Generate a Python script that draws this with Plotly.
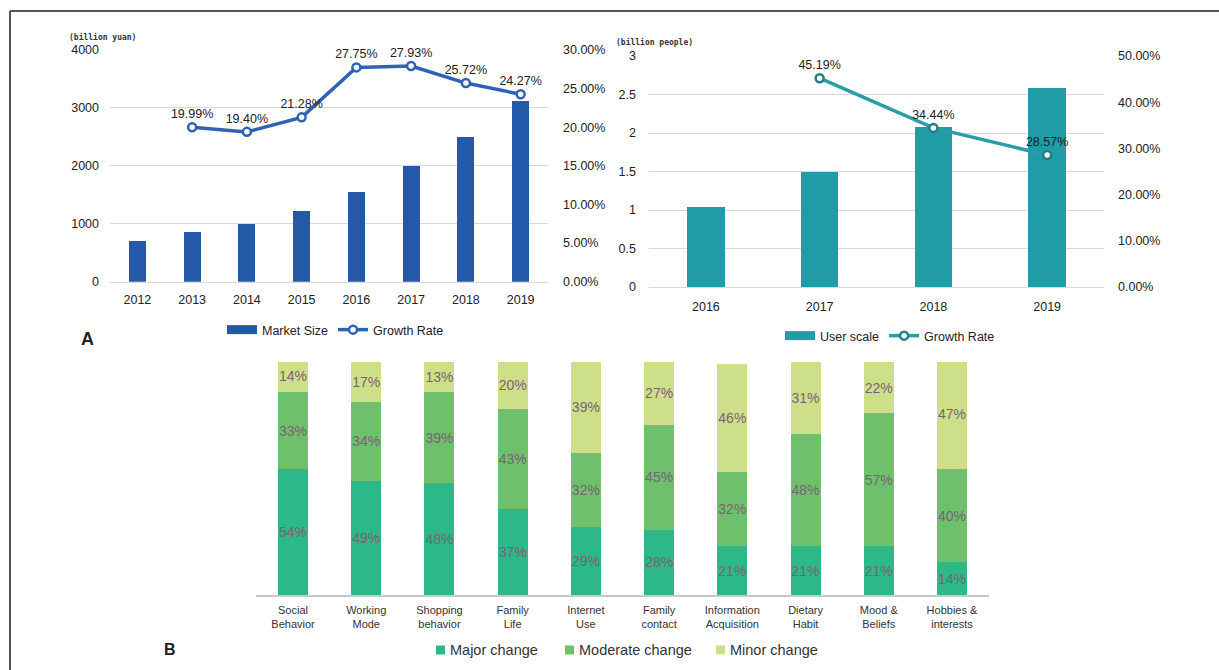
import plotly.graph_objects as go

W, H = 1219, 670
def px(x): return x / W
def py(y): return 1 - y / H

# ---------- data ----------
years_a = ["2012", "2013", "2014", "2015", "2016", "2017", "2018", "2019"]
market_size = [700, 850, 1000, 1220, 1550, 2000, 2500, 3120]
growth_years_a = ["2013", "2014", "2015", "2016", "2017", "2018", "2019"]
growth_a = [0.1999, 0.1940, 0.2128, 0.2775, 0.2793, 0.2572, 0.2427]

years_b = ["2016", "2017", "2018", "2019"]
user_scale = [1.04, 1.50, 2.08, 2.59]
growth_years_b = ["2017", "2018", "2019"]
growth_b = [0.4519, 0.3444, 0.2857]

categories_c = ["Social<br>Behavior", "Working<br>Mode", "Shopping<br>behavior", "Family<br>Life",
                "Internet<br>Use", "Family<br>contact", "Information<br>Acquisition", "Dietary<br>Habit",
                "Mood &<br>Beliefs", "Hobbies &<br>interests"]
series_c = ["Major change", "Moderate change", "Minor change"]
major = [54, 49, 48, 37, 29, 28, 21, 21, 21, 14]
moderate = [33, 34, 39, 43, 32, 45, 32, 48, 57, 40]
minor = [14, 17, 13, 20, 39, 27, 46, 31, 22, 47]

FONT = "Liberation Sans, Arial, sans-serif"
BLUE_BAR = "#2459A9"
BLUE_LINE = "#2E62B6"
TEAL_BAR = "#1F9CA6"
TEAL_LINE = "#2A9EA8"
C_MAJOR = "#2DB88A"
C_MOD = "#6EC06C"
C_MIN = "#CEDF8A"
TXT_C = "#7A6272"

fig = go.Figure()

# ---------- Chart A ----------
fig.add_trace(go.Bar(x=years_a, y=market_size, name="Market Size", marker_color=BLUE_BAR,
                     width=0.31, xaxis="x", yaxis="y", showlegend=False))
fig.add_trace(go.Scatter(x=[None], y=[None], mode="lines", name="Market Size",
                         line=dict(color=BLUE_BAR, width=9), xaxis="x", yaxis="y", legend="legend"))
fig.add_trace(go.Scatter(x=growth_years_a, y=growth_a, name="Growth Rate", mode="lines+markers+text",
                         line=dict(color=BLUE_LINE, width=3.5),
                         marker=dict(symbol="circle", size=8, color="white", line=dict(color=BLUE_LINE, width=2.5)),
                         text=[f"{v*100:.2f}%" for v in growth_a], textposition="top center",
                         textfont=dict(size=12.5, color="#222", family=FONT),
                         xaxis="x", yaxis="y2", legend="legend", cliponaxis=False))

# ---------- Chart B ----------
fig.add_trace(go.Bar(x=years_b, y=user_scale, name="User scale", marker_color=TEAL_BAR,
                     width=0.33, xaxis="x2", yaxis="y3", showlegend=False))
fig.add_trace(go.Scatter(x=[None], y=[None], mode="lines", name="User scale",
                         line=dict(color=TEAL_BAR, width=9), xaxis="x2", yaxis="y3", legend="legend2"))
fig.add_trace(go.Scatter(x=growth_years_b, y=growth_b, name="Growth Rate", mode="lines+markers+text",
                         line=dict(color=TEAL_LINE, width=3.5),
                         marker=dict(symbol="circle", size=8, color="white", line=dict(color="#1E7F88", width=2.5)),
                         text=[f"{v*100:.2f}%" for v in growth_b], textposition="top center",
                         textfont=dict(size=12.5, color="#222", family=FONT),
                         xaxis="x2", yaxis="y4", legend="legend2", cliponaxis=False))

# ---------- Chart C ----------
colors_c = [C_MAJOR, C_MOD, C_MIN]
for name, vals, col in zip(series_c, [major, moderate, minor], colors_c):
    fig.add_trace(go.Bar(x=categories_c, y=vals, name=name, marker_color=col, width=0.41,
                         text=[f"{v}%" for v in vals], textposition="inside", insidetextanchor="middle",
                         textangle=0, constraintext="none",
                         textfont=dict(size=14, color=TXT_C, family=FONT),
                         xaxis="x3", yaxis="y5", showlegend=False))

# manual legend for chart C (square swatch tight to text)
leg_c_x = [436, 565, 716]
for name, col, lx in zip(series_c, colors_c, leg_c_x):
    fig.add_shape(type="rect", xref="paper", yref="paper", x0=px(lx), x1=px(lx + 9),
                  y0=py(654.5), y1=py(645.5), fillcolor=col, line=dict(width=0))
    fig.add_annotation(text=name, x=px(lx + 12), y=py(650), xref="paper", yref="paper",
                       xanchor="left", yanchor="middle", showarrow=False,
                       font=dict(family=FONT, size=14.5, color="#333"))

tickf = dict(family=FONT, size=12.5, color="#222")
grid = "#D9D9D9"
common = dict(automargin=False, showgrid=False, zeroline=False)

fig.update_layout(
    template="none",
    width=W, height=H, margin=dict(l=0, r=0, t=0, b=0, pad=0, autoexpand=False), autosize=False,
    paper_bgcolor="white", plot_bgcolor="white",
    font=dict(family=FONT, color="#222"),
    barmode="stack", showlegend=True,
    uniformtext=dict(minsize=8, mode="show"),
    xaxis=dict(common, domain=[px(110), px(548)], type="category", anchor="y", tickfont=tickf,
               showline=True, linecolor=grid, ticks="", ticklabelstandoff=6),
    yaxis=dict(common, domain=[py(281.7), py(50)], range=[0, 4000], dtick=1000, anchor="x",
               showgrid=True, gridcolor=grid, tickfont=tickf, ticks="", ticklabelstandoff=10),
    yaxis2=dict(common, overlaying="y", side="right", range=[0, 0.30], dtick=0.05, tickformat=".2%",
                tickfont=tickf, anchor="x", ticks="", ticklabelstandoff=14),
    xaxis2=dict(common, domain=[px(649), px(1104)], type="category", anchor="y3", tickfont=tickf,
                showline=True, linecolor=grid, ticks="", ticklabelstandoff=8),
    yaxis3=dict(common, domain=[py(287), py(56)], range=[0, 3], dtick=0.5, anchor="x2",
                showgrid=True, gridcolor=grid, tickfont=tickf, ticks="", ticklabelstandoff=12),
    yaxis4=dict(common, overlaying="y3", side="right", range=[0, 0.5], dtick=0.1, tickformat=".2%",
                tickfont=tickf, anchor="x2", ticks="", ticklabelstandoff=13),
    xaxis3=dict(common, domain=[px(256.4), px(988.6)], type="category", anchor="y5",
                tickfont=dict(family=FONT, size=11, color="#333"),
                showline=True, linecolor="#C8C8C8", linewidth=1.5, ticks="", ticklabelstandoff=4),
    yaxis5=dict(common, domain=[py(595), py(362)], range=[0, 100], visible=False, anchor="x3"),
    legend=dict(orientation="h", x=px(222), y=py(330), xanchor="left", yanchor="middle",
                font=dict(family=FONT, size=12.5, color="#222"), bgcolor="rgba(0,0,0,0)",
                itemwidth=30, traceorder="normal", borderwidth=0),
    legend2=dict(orientation="h", x=px(780), y=py(336), xanchor="left", yanchor="middle",
                 font=dict(family=FONT, size=12.5, color="#222"), bgcolor="rgba(0,0,0,0)",
                 itemwidth=30, traceorder="normal", borderwidth=0),
)

# frame lines
fig.add_shape(type="line", xref="paper", yref="paper", x0=px(10), x1=1, y0=py(11), y1=py(11),
              line=dict(color="#555", width=2))
fig.add_shape(type="line", xref="paper", yref="paper", x0=px(10), x1=px(10), y0=py(11), y1=0,
              line=dict(color="#555", width=2))

# annotations
for text, x, y in [("(billion yuan)", 67, 37), ("(billion people)", 614, 42)]:
    fig.add_annotation(text=f"<b>{text}</b>", x=px(x), y=py(y), xref="paper", yref="paper",
                       xanchor="left", yanchor="middle", showarrow=False,
                       font=dict(family="DejaVu Sans Mono, monospace", size=8, color="#333"))
fig.add_annotation(text="<b>A</b>", x=px(87), y=py(339), xref="paper", yref="paper",
                   xanchor="center", yanchor="middle", showarrow=False,
                   font=dict(family=FONT, size=18, color="#222"))
fig.add_annotation(text="<b>B</b>", x=px(170), y=py(649), xref="paper", yref="paper",
                   xanchor="center", yanchor="middle", showarrow=False,
                   font=dict(family=FONT, size=16, color="#222"))

post = (
    "var gd=document.getElementById('{plot_id}');"
    "document.documentElement.style.margin='0';document.body.style.margin='0';"
    "document.documentElement.style.overflow='hidden';document.body.style.overflow='hidden';"
    "gd.style.position='fixed';gd.style.top='0px';gd.style.left='0px';"
)
fig.write_html("out.html", config={"responsive": False, "displayModeBar": False}, post_script=post)
